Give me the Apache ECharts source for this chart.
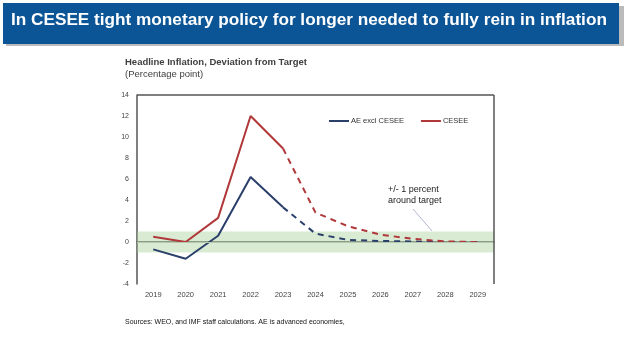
<!DOCTYPE html>
<html><head><meta charset="utf-8">
<script src="https://cdn.jsdelivr.net/npm/echarts@6/dist/echarts.min.js"></script>
<style>html,body{margin:0;padding:0;background:#fff}#c{width:636px;height:363px}</style>
</head><body><div id="c"></div>
<script>
var years = ['2019','2020','2021','2022','2023','2024','2025','2026','2027','2028','2029'];
var aeExclCesee = [-0.7, -1.6, 0.6, 6.2, 3.3, 0.8, 0.2, 0.1, 0.05, 0.0, 0.0];
var cesee = [0.5, 0.0, 2.3, 12.0, 8.9, 2.8, 1.5, 0.7, 0.3, 0.05, 0.0];
var lastActual = 4; // index of 2023
var bandLow = -1, bandHigh = 1;

function solid(a){ return a.map(function(v,i){ return i<=lastActual ? v : null; }); }
function dashed(a){ return a.map(function(v,i){ return i>=lastActual ? v : null; }); }

var chart = echarts.init(document.getElementById('c'));
var aeColor = '#2b3f6b', ceColor = '#b0383a';
chart.setOption({
  animation:false,
  textStyle:{fontFamily:'Liberation Sans, Arial'},
  graphic:[
    {type:'rect', shape:{x:6,y:6,width:618,height:40}, style:{fill:'#bbb'}, z:0},
    {type:'rect', shape:{x:3,y:3,width:616,height:41}, style:{fill:'#0b5596'}, z:1},
    {type:'text', left:11, top:12, style:{text:'In CESEE tight monetary policy for longer needed to fully rein in inflation', fill:'#fff', fontFamily:'Liberation Sans', fontWeight:'bold', fontSize:17.2}, z:2},
    {type:'text', left:125, top:57, style:{text:'Headline Inflation, Deviation from Target', fill:'#404040', font:'bold 9.5px Liberation Sans, Arial'}},
    {type:'text', left:125, top:69, style:{text:'(Percentage point)', fill:'#404040', font:'9.5px Liberation Sans, Arial'}},
    {type:'text', left:388, top:184, style:{text:'+/- 1 percent\naround target', fill:'#222', font:'9px Liberation Sans, Arial', lineHeight:11}},
    {type:'line', shape:{x1:413,y1:209,x2:432,y2:231}, style:{stroke:'#9aa4c0', lineWidth:0.8}},
    {type:'text', left:125, top:319, style:{text:'Sources: WEO, and IMF staff calculations. AE is advanced economies,', fill:'#111', font:'7px Liberation Sans Narrow, Arial'}}
  ],
  legend:{
    data:['AE excl CESEE','CESEE'], left:324, top:112, itemWidth:20, itemHeight:2, itemGap:17,
    icon:'rect', textStyle:{fontSize:7.5, color:'#333', padding:[0,0,0,-3]}
  },
  grid:{left:137, top:95, right:142, bottom:79},
  xAxis:{
    type:'category', data:years, boundaryGap:true,
    axisLine:{lineStyle:{color:'#555', width:1.5}}, axisTick:{show:false},
    axisLabel:{fontSize:7.5, color:'#444', margin:7}
  },
  yAxis:{
    type:'value', min:-4, max:14, interval:2,
    axisLine:{show:true, lineStyle:{color:'#555', width:1.5}}, axisTick:{show:false},
    splitLine:{show:false},
    axisLabel:{fontSize:7, color:'#444', margin:8}
  },
  series:[
    {name:'AE excl CESEE', type:'line', data:solid(aeExclCesee), symbol:'none', lineStyle:{color:aeColor, width:2}, itemStyle:{color:aeColor}, z:3,
     markArea:{silent:true, itemStyle:{color:'rgba(160,205,145,0.4)'}, data:[[{yAxis:bandLow},{yAxis:bandHigh}]]},
     markLine:{silent:true, symbol:'none', label:{show:false}, lineStyle:{color:'#b7c8b0', width:1, type:'solid'}, data:[{yAxis:0}]}
    },
    {name:'CESEE', type:'line', data:solid(cesee), symbol:'none', lineStyle:{color:ceColor, width:2}, itemStyle:{color:ceColor}, z:3},
    {name:'AE excl CESEE f', type:'line', data:dashed(aeExclCesee), symbol:'none', lineStyle:{color:aeColor, width:2, type:[6,5]}, z:3},
    {name:'CESEE f', type:'line', data:dashed(cesee), symbol:'none', lineStyle:{color:ceColor, width:2, type:[6,5]}, z:3},
    {name:'frame', type:'line', data:[], xAxisIndex:0,
     markLine:{silent:true, symbol:'none', label:{show:false}, lineStyle:{color:'#555', width:1.5, type:'solid'},
       data:[[{x:137,y:95},{x:494,y:95}],[{x:494,y:95},{x:494,y:284}]]}}
  ]
});
</script></body></html>
